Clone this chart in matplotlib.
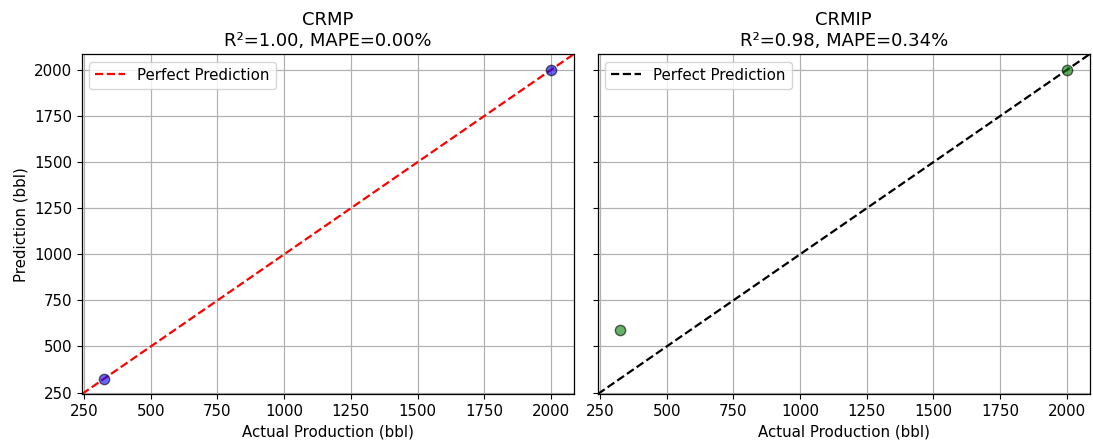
import matplotlib.pyplot as plt

# Dữ liệu
actual = [325, 2000]
pred_crmp = [322, 2000]
pred_crmip = [590, 2000]

titles = ["CRMP\nR²=1.00, MAPE=0.00%", "CRMIP\nR²=0.98, MAPE=0.34%"]
colors = ["blue", "green"]
line_colors = ["red", "black"]
lims = (242, 2086)
ticks = [250, 500, 750, 1000, 1250, 1500, 1750, 2000]

plt.rcParams["font.size"] = 10.8
plt.rcParams["axes.linewidth"] = 0.9

fig = plt.figure(figsize=(10.93, 4.44), dpi=100)
ax1 = fig.add_axes([0.075, 0.1126, 0.450, 0.7655])
ax2 = fig.add_axes([0.547, 0.1126, 0.450, 0.7655], sharey=ax1)

for ax, pred, title, c, lc in zip([ax1, ax2], [pred_crmp, pred_crmip], titles, colors, line_colors):
    ax.scatter(actual, pred, s=55, color=c, alpha=0.6, edgecolors="black", zorder=3)
    ax.plot(lims, lims, "--", color=lc, lw=1.6, label="Perfect Prediction", zorder=2)
    ax.set_xlim(lims)
    ax.set_ylim(lims)
    ax.set_xticks(ticks)
    ax.set_yticks(ticks)
    ax.grid(True, color="#b0b0b0", lw=0.85)
    ax.set_title(title, fontsize=13)
    ax.set_xlabel("Actual Production (bbl)")
    ax.legend(loc="upper left")

ax1.set_ylabel("Prediction (bbl)")
plt.setp(ax2.get_yticklabels(), visible=False)

fig.savefig("out.png", dpi=100)
